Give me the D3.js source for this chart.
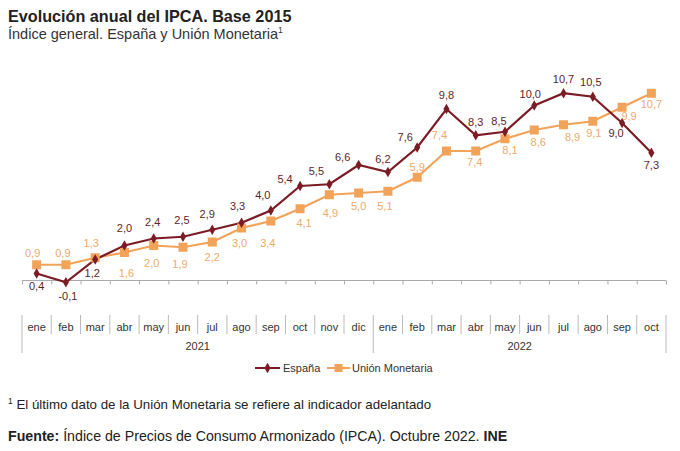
<!DOCTYPE html>
<html><head><meta charset="utf-8">
<script src="https://cdn.jsdelivr.net/npm/d3@7"></script>
<style>
html,body{margin:0;padding:0;background:#fff;}
svg{display:block;font-family:"Liberation Sans",Arial,sans-serif;}
</style></head>
<body>
<svg id="chart" width="680" height="451"></svg>
<script>
// ---- DATA ----
const months = ["ene","feb","mar","abr","may","jun","jul","ago","sep","oct","nov","dic",
                "ene","feb","mar","abr","may","jun","jul","ago","sep","oct"];
const years = [{label:"2021", start:0, end:12},{label:"2022", start:12, end:22}];
const espana = [0.4,-0.1,1.2,2.0,2.4,2.5,2.9,3.3,4.0,5.4,5.5,6.6,6.2,7.6,9.8,8.3,8.5,10.0,10.7,10.5,9.0,7.3];
const unionMonetaria = [0.9,0.9,1.3,1.6,2.0,1.9,2.2,3.0,3.4,4.1,4.9,5.0,5.1,5.9,7.4,7.4,8.1,8.6,8.9,9.1,9.9,10.7];
const seriesNames = ["España","Unión Monetaria"];

// ---- LABEL OFFSETS (placement only) ----
const espDx = [0,2,-3,0,-1,-1,-5,-4,-8,-15,-13,-16,-5,-12,0,0,-6,-4,0,-2,-6,0];
const espDy = [12,14,13.5,-18,-17,-17,-16,-17,-15.5,-7,-13.5,-8,-13,-11,-14,-13.5,-11,-11.5,-14,-15,10,12];
const umDx = [-4,-3,-4,2,-2,-3,0,-2,-3,4,1,0,-3,0,-7,-1,5,4,9,1,7,0];
const umDy = [-12,-12,-15,20,17.5,17,15,15,22,14,18,13,15,-10.5,-16,11,11,12,12,12,9,11];

const colEsp = "#7b1c24", colUM = "#f2a35a";
const colEspLbl = "#5e2328", colUMLbl = "#eeaa6a";

const svg = d3.select("#chart");
const x = d3.scaleBand().domain(d3.range(months.length)).range([22,666]).padding(0);
const y = d3.scaleLinear().domain([0,10]).range([280.5,105.5]);
const cx = i => x(i) + x.bandwidth()/2;
const fmt = v => d3.format(".1f")(v).replace(".", ",").replace("−","-");

// titles
svg.append("text").attr("x",8).attr("y",22).attr("font-size",16.2).attr("font-weight","bold")
  .attr("fill","#222").text("Evolución anual del IPCA. Base 2015");
const sub = svg.append("text").attr("x",8).attr("y",38.5).attr("font-size",14.5).attr("fill","#333");
sub.append("tspan").text("Índice general. España y Unión Monetaria");
sub.append("tspan").attr("font-size",8.5).attr("dy",-5.5).text("1");

// x axis line with ticks
const axisG = svg.append("g").attr("transform","translate(0,280.5)");
const axis = d3.axisBottom(d3.scaleLinear().domain([0,months.length]).range([22,666]))
  .tickValues(d3.range(months.length+1)).tickSize(4).tickFormat("");
axisG.call(axis);
axisG.select(".domain").attr("stroke","#aaa").attr("d","M22,0H666");
axisG.selectAll(".tick line").attr("stroke","#aaa");

// month labels and separators
const cat = svg.append("g");
months.forEach((m,i)=>{
  cat.append("text").attr("x",cx(i)).attr("y",331).attr("text-anchor","middle")
    .attr("font-size",11).attr("fill","#333").text(m);
});
d3.range(months.length+1).forEach(i=>{
  const xx = i===months.length ? 666 : x(i);
  const isYear = years.some(yr=>yr.start===i||yr.end===i);
  cat.append("line").attr("x1",xx).attr("x2",xx).attr("y1",315).attr("y2",isYear?353:334)
    .attr("stroke","#bbb").attr("stroke-width",1);
});
years.forEach(yr=>{
  const a = x(yr.start), b = yr.end===months.length?666:x(yr.end);
  cat.append("text").attr("x",(a+b)/2).attr("y",350).attr("text-anchor","middle")
    .attr("font-size",11).attr("fill","#333").text(yr.label);
});

// lines
const line = d3.line().x((d,i)=>cx(i)).y(d=>y(d));
svg.append("path").datum(unionMonetaria).attr("d",line).attr("fill","none")
  .attr("stroke",colUM).attr("stroke-width",2.2);
svg.append("path").datum(espana).attr("d",line).attr("fill","none")
  .attr("stroke",colEsp).attr("stroke-width",2.2);

// markers
svg.append("g").selectAll("rect").data(unionMonetaria).join("rect")
  .attr("x",(d,i)=>cx(i)-4.5).attr("y",d=>y(d)-4.5).attr("width",9).attr("height",9)
  .attr("fill",colUM);
const diamond = d3.symbol().type(d3.symbolDiamond).size(32);
svg.append("g").selectAll("path").data(espana).join("path")
  .attr("d",diamond).attr("transform",(d,i)=>`translate(${cx(i)},${y(d)})`).attr("fill",colEsp);

// value labels
svg.append("g").selectAll("text").data(unionMonetaria).join("text")
  .attr("x",(d,i)=>cx(i)+umDx[i]).attr("y",(d,i)=>y(d)+umDy[i])
  .attr("dominant-baseline","central").attr("text-anchor","middle")
  .attr("font-size",11).attr("fill",colUMLbl).text(fmt);
svg.append("g").selectAll("text").data(espana).join("text")
  .attr("x",(d,i)=>cx(i)+espDx[i]).attr("y",(d,i)=>y(d)+espDy[i])
  .attr("dominant-baseline","central").attr("text-anchor","middle")
  .attr("font-size",11).attr("fill",colEspLbl).text(fmt);

// legend
const leg = svg.append("g");
leg.append("line").attr("x1",255).attr("x2",280).attr("y1",368).attr("y2",368)
  .attr("stroke",colEsp).attr("stroke-width",2);
leg.append("path").attr("d",diamond).attr("transform","translate(267.5,368)").attr("fill",colEsp);
leg.append("text").attr("x",283).attr("y",368).attr("dominant-baseline","central")
  .attr("font-size",11).attr("fill","#333").text(seriesNames[0]);
leg.append("line").attr("x1",327).attr("x2",350).attr("y1",368).attr("y2",368)
  .attr("stroke",colUM).attr("stroke-width",2);
leg.append("rect").attr("x",334.5).attr("y",364).attr("width",8).attr("height",8).attr("fill",colUM);
leg.append("text").attr("x",352).attr("y",368).attr("dominant-baseline","central")
  .attr("font-size",11).attr("fill","#333").text(seriesNames[1]);

// footnotes
const fn = svg.append("text").attr("x",8).attr("y",409).attr("font-size",13.3).attr("fill","#222");
fn.append("tspan").attr("font-size",8.5).attr("dy",-5).text("1");
fn.append("tspan").attr("dy",5).text(" El último dato de la Unión Monetaria se refiere al indicador adelantado");
const src = svg.append("text").attr("x",8).attr("y",441).attr("font-size",14.2).attr("fill","#222");
src.append("tspan").attr("font-weight","bold").text("Fuente: ");
src.append("tspan").text("Índice de Precios de Consumo Armonizado (IPCA). Octubre 2022. ");
src.append("tspan").attr("font-weight","bold").text("INE");
</script>
</body></html>
